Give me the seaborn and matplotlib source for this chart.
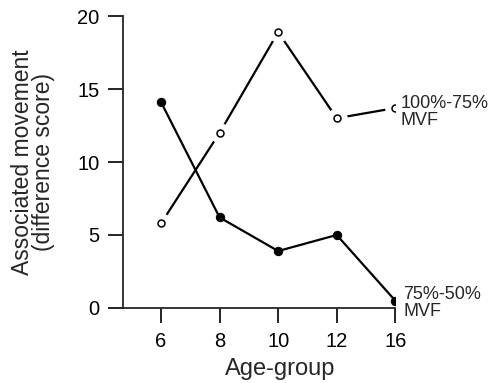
import numpy as np
import pandas as pd
import matplotlib
matplotlib.use('Agg')
import matplotlib.pyplot as plt
import seaborn as sns

# data
ages = ['6', '8', '10', '12', '16']
high_mvf = [5.8, 12.0, 18.9, 13.0, 13.7]   # 100%-75% MVF (open circles)
low_mvf = [14.1, 6.2, 3.9, 5.0, 0.5]       # 75%-50% MVF (filled circles)
high_label = '100%-75%\nMVF'
low_label = '75%-50%\nMVF'

df = pd.DataFrame({'age': ages, 'high': high_mvf, 'low': low_mvf})

sns.set_style('ticks')
plt.rcParams['font.family'] = ['Liberation Sans', 'DejaVu Sans']

fig = plt.figure(figsize=(4.95, 3.83), dpi=100)
ax = fig.add_axes([0.2485, 0.196, 0.55, 0.762])

# filled series
sns.lineplot(data=df, x='age', y='low', ax=ax, color='black', lw=1.6,
             marker='o', markersize=6, markerfacecolor='black',
             markeredgecolor='black', sort=False)

# open series with white gap round the markers
sns.lineplot(data=df, x='age', y='high', ax=ax, color='black', lw=1.6, sort=False)
sns.lineplot(data=df, x='age', y='high', ax=ax, lw=0, marker='o', markersize=14,
             markerfacecolor='white', markeredgecolor='white', sort=False)
sns.lineplot(data=df, x='age', y='high', ax=ax, lw=0, marker='o', markersize=5,
             markerfacecolor='white', markeredgecolor='black',
             markeredgewidth=1.1, sort=False)

ax.set_xlim(-0.65, 4)
ax.set_ylim(0, 20)
ax.set_yticks([0, 5, 10, 15, 20])
ax.set_xticks(range(len(ages)))
ax.set_xticklabels(ages)
sns.despine(ax=ax)
for s in ['left', 'bottom']:
    ax.spines[s].set_linewidth(1.3)
ax.tick_params(axis='both', direction='out', length=11, width=1.2,
               labelsize=14.5, pad=6, colors='black')

ax.set_ylabel('Associated movement\n(difference score)', fontsize=16.5,
              linespacing=0.9)
ax.yaxis.set_label_coords(-0.25, 0.5)
ax.set_xlabel('Age-group', fontsize=17)
ax.xaxis.set_label_coords(0.578, -0.17)

ax.annotate(high_label, xy=(4, high_mvf[-1]), xytext=(4, -3),
            textcoords='offset points', fontsize=13, va='center',
            ha='left', linespacing=1.0, annotation_clip=False)
ax.annotate(low_label, xy=(4, low_mvf[-1]), xytext=(6, -1.5),
            textcoords='offset points', fontsize=13, va='center',
            ha='left', linespacing=1.0, annotation_clip=False)

fig.savefig('out.png', dpi=100)
